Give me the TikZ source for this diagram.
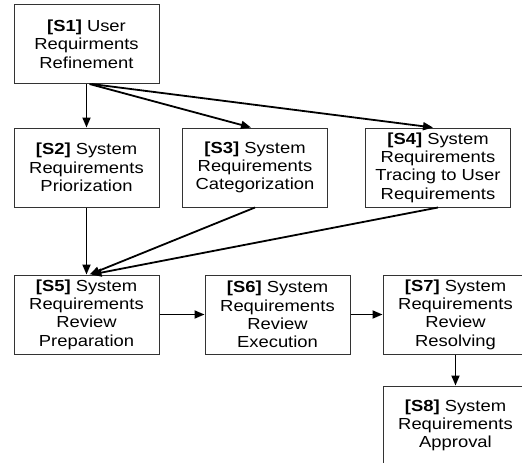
\documentclass[tikz,border=0pt]{standalone}
\usepackage{fontspec}
\setmainfont{Liberation Sans}[FakeStretch=1.15]
\usetikzlibrary{arrows.meta}
\begin{document}
\begin{tikzpicture}[x=1pt,y=-1pt,
  stepbox/.style={draw=black!80, line width=1pt, minimum width=145pt, minimum height=79pt,
    inner sep=0pt, align=center, font=\fontsize{16}{18.3}\selectfont},
  flow/.style={line width=1.8pt, -{Triangle[length=10pt,width=8pt]}}]
\clip (0,0) rectangle (522,463);
\fill[white] (0,0) rectangle (522,463);
\node[stepbox] (S1) at (86.5,44) {\textbf{[S1]} User\\Requirments\\Refinement};
\node[stepbox] (S2) at (86.5,167.5) {\textbf{[S2]} System\\Requirements\\Priorization};
\node[stepbox] (S3) at (255,167.5) {\textbf{[S3]} System\\Requirements\\Categorization};
\node[stepbox] (S4) at (438,167.5) {\textbf{[S4]} System\\Requirements\\Tracing to User\\Requirements};
\node[stepbox] (S5) at (86.5,314.5) {\textbf{[S5]} System\\Requirements\\Review\\Preparation};
\node[stepbox] (S6) at (277.5,314.5) {\textbf{[S6]} System\\Requirements\\Review\\Execution};
\node[stepbox] (S7) at (455.5,314.5) {\textbf{[S7]} System\\Requirements\\Review\\Resolving};
\node[stepbox] (S8) at (455.5,425.5) {\textbf{[S8]} System\\Requirements\\Approval};
\draw[flow] (S1.south) -- (S2.north);
\draw[flow] ([xshift=3pt]S1.south) -- ([xshift=-4pt]S3.north);
\draw[flow] ([xshift=5pt]S1.south) -- ([xshift=-5pt]S4.north);
\draw[flow] (S2.south) -- (S5.north);
\draw[flow] (S3.south) -- ([xshift=3pt]S5.north);
\draw[flow] (S4.south) -- ([xshift=5pt]S5.north);
\draw[flow] (S5.east) -- (S6.west);
\draw[flow] (S6.east) -- (S7.west);
\draw[flow] (S7.south) -- (S8.north);
\end{tikzpicture}
\end{document}
